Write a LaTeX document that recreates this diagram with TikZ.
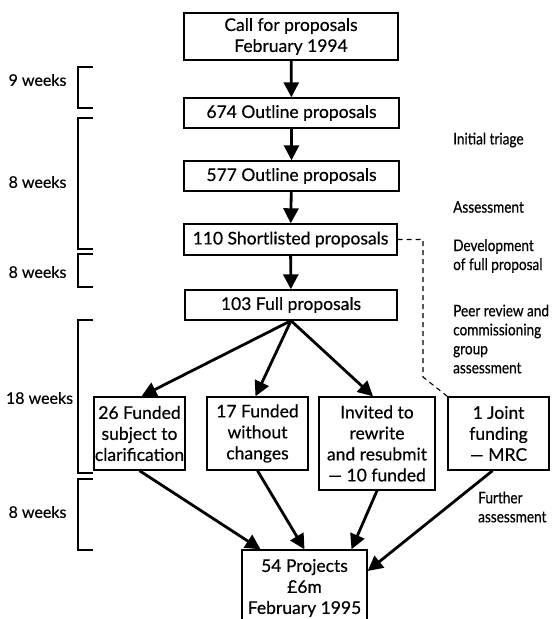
\documentclass[tikz,border=0pt]{standalone}
\usepackage{fontspec}
\setmainfont{Lato}[Ligatures=TeX,FakeBold=0.4]
\newfontfamily\boxfont{Lato}[Ligatures=TeX,FakeBold=0.4]
\newfontfamily\narrowfont{Lato}[Ligatures=TeX,FakeStretch=0.85,FakeBold=0.4]
\usetikzlibrary{arrows.meta}
\begin{document}
\begin{tikzpicture}[x=1pt,y=-1pt,
 box/.style={draw, line width=1.4pt, inner sep=0pt, align=center, font=\boxfont\fontsize{17.5}{21}\selectfont},
 arr/.style={line width=2.8pt, -{Triangle[length=15pt,width=15pt]}},
 brk/.style={line width=1.1pt},
 wk/.style={font=\boxfont\fontsize{16}{19}\selectfont, inner sep=0pt},
 side/.style={font=\narrowfont\fontsize{16}{19}\selectfont, align=left, anchor=west, inner sep=0pt},
 dsh/.style={line width=1.1pt, dash pattern=on 5pt off 4pt}]
\useasboundingbox[fill=white] (0,0) rectangle (557,619);

% main column
\node[box, minimum width=214pt, minimum height=47pt] (call) at (291,36.5) {Call for proposals\\February 1994};
\node[box, minimum width=215pt, minimum height=30pt] (o674) at (291.5,113) {674 Outline proposals};
\node[box, minimum width=215pt, minimum height=30pt] (o577) at (291.5,176) {577 Outline proposals};
\node[box, minimum width=213pt, minimum height=31pt] (s110) at (290.5,239.5) {110 Shortlisted proposals};
\node[box, minimum width=212pt, minimum height=30pt] (f103) at (291,305) {103 Full proposals};

% outcome row
\node[box, minimum width=91pt, minimum height=73pt] (b1) at (139.5,433.5) {26 Funded\\subject to\\clarification};
\node[box, minimum width=101pt, minimum height=73pt] (b2) at (257.5,433.5) {17 Funded\\without\\changes};
\node[box, minimum width=116pt, minimum height=93pt] (b3) at (377,443.5) {Invited to\\rewrite\\and resubmit\\— 10 funded};
\node[box, minimum width=101pt, minimum height=73pt] (b4) at (498.5,433.5) {1 Joint\\funding\\— MRC};

\node[box, minimum width=125pt, minimum height=76pt] (final) at (304.5,588) {54 Projects\\£6m\\February 1995};

% arrows
\draw[arr] (call) -- (o674);
\draw[arr] (o674) -- (o577);
\draw[arr] (o577) -- (s110);
\draw[arr] (s110) -- (f103);
\draw[arr] (f103.south) -- ([xshift=2pt]b1.north);
\draw[arr] (f103.south) -- ([xshift=-2pt]b2.north);
\draw[arr] (f103.south) -- ([xshift=-4pt]b3.north);
\draw[arr] (b1.south) -- ([xshift=-44pt]final.north);
\draw[arr] (b2.south) -- (final.north);
\draw[arr] (b3.south) -- ([xshift=47pt]final.north);
\draw[arr] ([xshift=-6pt]b4.south) -- ([yshift=17pt]final.east);

% dashed link
\coordinate (d1) at (423,239.5);
\coordinate (d2) at (423,377);
\draw[dsh] (s110.east) -- (d1) -- (d2) -- (b4.north west);

% brackets
\draw[brk] (93,67) -- (78,67) -- (78,108) -- (93,108);
\draw[brk] (93,118) -- (78,118) -- (78,249) -- (93,249);
\draw[brk] (93,254) -- (78,254) -- (78,287) -- (93,287);
\draw[brk] (93,320) -- (78,320) -- (78,473) -- (93,473);
\draw[brk] (93,479) -- (78,479) -- (78,550) -- (93,550);

\node[wk] (w1) at (37.5,80) {9 weeks};
\node[wk] (w2) at (37.5,182) {8 weeks};
\node[wk] (w3) at (37.5,272) {8 weeks};
\node[wk] (w4) at (39.5,398) {18 weeks};
\node[wk] (w5) at (37.5,512) {8 weeks};

% side notes
\node[side] (n1) at (453,140) {Initial triage};
\node[side] (n2) at (453,207) {Assessment};
\node[side] (n3) at (453,256) {Development\\of full proposal};
\node[side] (n4) at (453,339) {Peer review and\\commissioning\\group\\assessment};
\node[side] (n5) at (478,507) {Further\\assessment};
\end{tikzpicture}
\end{document}
